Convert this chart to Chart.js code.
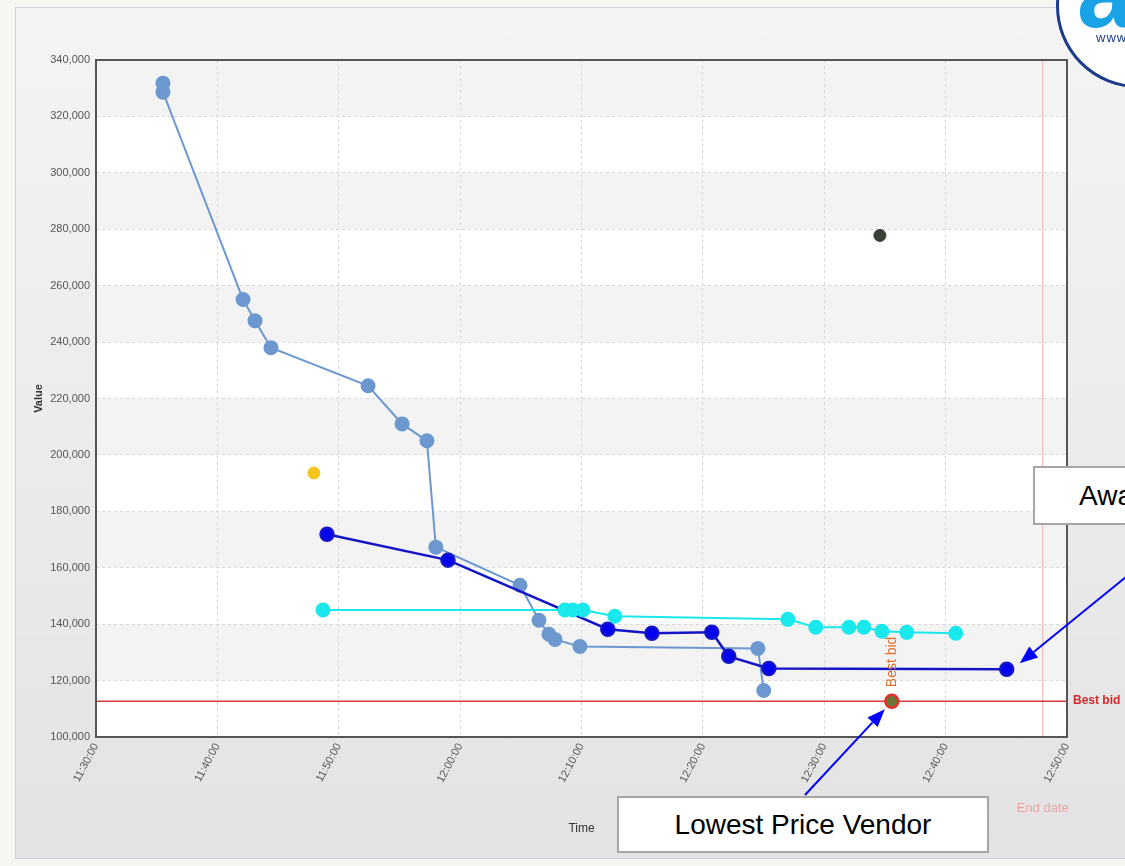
<!DOCTYPE html>
<html>
<head>
<meta charset="utf-8">
<script src="https://cdn.jsdelivr.net/npm/chart.js@4.4.1/dist/chart.umd.min.js"></script>
<style>
  html, body { margin: 0; padding: 0; width: 1125px; height: 866px; overflow: hidden; background: #f7f5f1; font-family: "Liberation Sans", Arial, sans-serif; }
  #panel { position: absolute; left: 15px; top: 7px; width: 1120px; height: 850px; border: 1px solid #d2d2d2; background: linear-gradient(to bottom, #f4f4f4, #e3e3e3); }
  #chart { position: absolute; left: 0; top: 0; }
  .note { position: absolute; background: #fff; border: 2px solid #a6a6a6; font-size: 28px; color: #000; box-sizing: border-box; white-space: nowrap; }
  #logo { position: absolute; left: 1056px; top: -76px; width: 164px; height: 164px; border-radius: 50%; border: 3px solid #1b3a8c; background: #fff; box-sizing: border-box; overflow: hidden; }
</style>
</head>
<body>
<div id="panel"></div>
<canvas id="chart" width="1125" height="866"></canvas>
<div class="note" style="left:617px;top:796px;width:372px;height:57px;line-height:53px;text-align:center;">Lowest Price Vendor</div>
<div class="note" style="left:1033px;top:466px;width:260px;height:59px;line-height:55px;padding-left:44px;">Awarded Vendor</div>
<div id="logo">
  <span style="position:absolute;left:18px;top:15px;font-size:100px;line-height:100px;font-weight:bold;color:#1aa2e6;">a</span>
  <span style="position:absolute;left:37px;top:103px;font-size:13px;letter-spacing:1px;color:#1b3a8c;">www</span>
</div>
<script>
// dữ liệu
const startTime = '11:30:00';
const steelTimes = ['11:35:31','11:35:31','11:42:07','11:43:06','11:44:25','11:52:25','11:55:13','11:57:16','11:58:00','12:04:56','12:06:30','12:07:19','12:07:49','12:09:52','12:24:32','12:25:01'];
const steelValues = [331800, 328600, 255100, 247600, 238000, 224500, 211000, 205000, 167300, 153800, 141400, 136400, 134600, 132100, 131400, 116500];
const blueTimes = ['11:49:02','11:59:00','12:12:10','12:15:48','12:20:44','12:22:08','12:25:26','12:45:02'];
const blueValues = [171900, 162700, 138200, 136800, 137100, 128600, 124300, 124000];
const cyanTimes = ['11:48:42','12:08:38','12:09:17','12:10:07','12:12:45','12:27:00','12:29:18','12:32:02','12:33:16','12:34:45','12:36:48','12:40:50'];
const cyanValues = [145000, 145000, 145000, 145000, 142800, 141700, 138900, 138900, 138900, 137500, 137100, 136800];
const yellowTimes = ['11:47:57'];
const yellowValues = [193600];
const darkTimes = ['12:34:35'];
const darkValues = [277800];
const bestBidTime = '12:35:34';
const bestBidValue = 112700;
const endDate = '12:48:00';
const xTicks = ['11:30:00','11:40:00','11:50:00','12:00:00','12:10:00','12:20:00','12:30:00','12:40:00','12:50:00'];
const yTicks = [100000, 120000, 140000, 160000, 180000, 200000, 220000, 240000, 260000, 280000, 300000, 320000, 340000];

// đổi giờ thành số phút kể từ 11:30:00
function toMin(t) {
    const p = t.split(':').map(Number);
    const s = startTime.split(':').map(Number);
    return (p[0]*60 + p[1] + p[2]/60) - (s[0]*60 + s[1] + s[2]/60);
}
function pts(times, values) {
    return times.map((t, i) => ({x: toMin(t), y: values[i]}));
}
const xMin = toMin(xTicks[0]), xMax = toMin(xTicks[xTicks.length-1]);
const yMin = yTicks[0], yMax = yTicks[yTicks.length-1];

function arrow(ctx, x1, y1, x2, y2) {
    const a = Math.atan2(y2-y1, x2-x1);
    const hl = 18, hw = 7;
    const bx = x2 - hl*Math.cos(a), by = y2 - hl*Math.sin(a);
    ctx.strokeStyle = '#0000ff'; ctx.fillStyle = '#0000ff'; ctx.lineWidth = 2;
    ctx.beginPath(); ctx.moveTo(x1, y1); ctx.lineTo(bx, by); ctx.stroke();
    ctx.beginPath();
    ctx.moveTo(x2, y2);
    ctx.lineTo(bx + hw*Math.sin(a), by - hw*Math.cos(a));
    ctx.lineTo(bx - hw*Math.sin(a), by + hw*Math.cos(a));
    ctx.closePath(); ctx.fill();
}

// nền sọc, khung, nhãn, mũi tên
const decor = {
    id: 'decor',
    beforeDraw(chart) {
        const {ctx, chartArea: ca, scales: {y}} = chart;
        ctx.save();
        ctx.fillStyle = '#ffffff';
        ctx.fillRect(ca.left, ca.top, ca.width, ca.height);
        ctx.fillStyle = '#f3f3f3';
        for (let i = 1; i < yTicks.length - 1; i += 2) {
            const t = y.getPixelForValue(yTicks[i+1]), b = y.getPixelForValue(yTicks[i]);
            ctx.fillRect(ca.left, t, ca.width, b - t);
        }
        ctx.restore();
    },
    afterDatasetsDraw(chart) {
        const {ctx, chartArea: ca} = chart;
        ctx.save();
        ctx.strokeStyle = '#555555'; ctx.lineWidth = 2;
        ctx.strokeRect(ca.left, ca.top, ca.width, ca.height);
        ctx.restore();
    },
    afterDraw(chart) {
        const {ctx, chartArea: ca, scales: {x, y}} = chart;
        const bx = x.getPixelForValue(toMin(bestBidTime)), by = y.getPixelForValue(bestBidValue);
        ctx.save();
        ctx.font = 'bold 12px "Liberation Sans", Arial';
        ctx.fillStyle = '#d42a2a';
        ctx.textBaseline = 'middle';
        ctx.fillText('Best bid', ca.right + 6, by);
        ctx.font = '13px "Liberation Sans", Arial';
        ctx.fillStyle = '#eaa4a4';
        ctx.textAlign = 'center';
        ctx.fillText('End date', x.getPixelForValue(toMin(endDate)), 808);
        ctx.translate(bx, by - 14);
        ctx.rotate(-Math.PI/2);
        ctx.textAlign = 'left';
        ctx.font = '14px "Liberation Sans", Arial';
        ctx.fillStyle = '#e0702a';
        ctx.fillText('Best bid', 0, 0);
        ctx.restore();
        const lx = x.getPixelForValue(toMin(blueTimes[blueTimes.length-1]));
        const ly = y.getPixelForValue(blueValues[blueValues.length-1]);
        ctx.save();
        arrow(ctx, 805, 795, bx - 7, by + 8);
        arrow(ctx, 1132, 572, lx + 13, ly - 6);
        ctx.restore();
    }
};

new Chart(document.getElementById('chart'), {
    type: 'line',
    data: {
        datasets: [
            { data: pts(cyanTimes, cyanValues), borderColor: '#19e8ec', backgroundColor: '#19e8ec', borderWidth: 2, pointRadius: 6.5, order: 1 },
            { data: pts(blueTimes, blueValues), borderColor: '#1515c8', backgroundColor: '#0000f0', borderWidth: 2.5, pointRadius: 6.5, order: 2 },
            { data: pts(steelTimes, steelValues), borderColor: '#6c98cf', backgroundColor: '#6c98cf', borderWidth: 2, pointRadius: 6.5, order: 3 },
            { data: pts(yellowTimes, yellowValues), showLine: false, backgroundColor: '#f6c41a', borderColor: '#f6c41a', pointRadius: 6, order: 4 },
            { data: pts(darkTimes, darkValues), showLine: false, backgroundColor: '#3b4036', borderColor: '#3b4036', pointRadius: 6, order: 4 },
            { data: [{x: xMin, y: bestBidValue}, {x: xMax, y: bestBidValue}], borderColor: '#d93a3a', borderWidth: 1.5, pointRadius: 0, order: 6 },
            { data: [{x: toMin(bestBidTime), y: bestBidValue}], showLine: false, backgroundColor: '#6f7438', borderColor: '#e8302a', borderWidth: 2.5, pointRadius: 6.5, order: 0 },
            { data: [{x: toMin(endDate), y: yMin}, {x: toMin(endDate), y: yMax}], borderColor: '#ebb8b4', borderWidth: 1.2, pointRadius: 0, order: 7 }
        ]
    },
    options: {
        responsive: false,
        animation: false,
        layout: { padding: { left: 30, top: 60, right: 58, bottom: 28 } },
        plugins: { legend: { display: false }, tooltip: { enabled: false } },
        scales: {
            x: {
                type: 'linear', min: xMin, max: xMax,
                afterFit: (s) => { s.height = 101; },
                afterBuildTicks: (s) => { s.ticks = xTicks.map((t) => ({value: toMin(t)})); },
                ticks: {
                    autoSkip: false, minRotation: 62, maxRotation: 62, padding: 4,
                    color: '#555', font: { family: '"Liberation Sans", Arial', size: 11 },
                    callback: (v) => xTicks.find((t) => Math.abs(toMin(t) - v) < 0.001) || ''
                },
                grid: { color: '#d9d9d9', drawTicks: false },
                border: { display: false, dash: [3, 3] },
                title: { display: true, text: 'Time', color: '#333', font: { family: '"Liberation Sans", Arial', size: 12 }, padding: { top: 0, bottom: 2 } }
            },
            y: {
                min: yMin, max: yMax,
                afterFit: (s) => { s.width = 66; },
                afterBuildTicks: (s) => { s.ticks = yTicks.map((v) => ({value: v})); },
                ticks: {
                    padding: 6, color: '#555', font: { family: '"Liberation Sans", Arial', size: 11 },
                    callback: (v) => v.toLocaleString('en-US')
                },
                grid: { color: '#d9d9d9', drawTicks: false },
                border: { display: false, dash: [3, 3] },
                title: { display: true, text: 'Value', color: '#333', font: { family: '"Liberation Sans", Arial', size: 11, weight: 'bold' }, padding: { top: 2, bottom: 0 } }
            }
        }
    },
    plugins: [decor]
});
</script>
</body>
</html>
